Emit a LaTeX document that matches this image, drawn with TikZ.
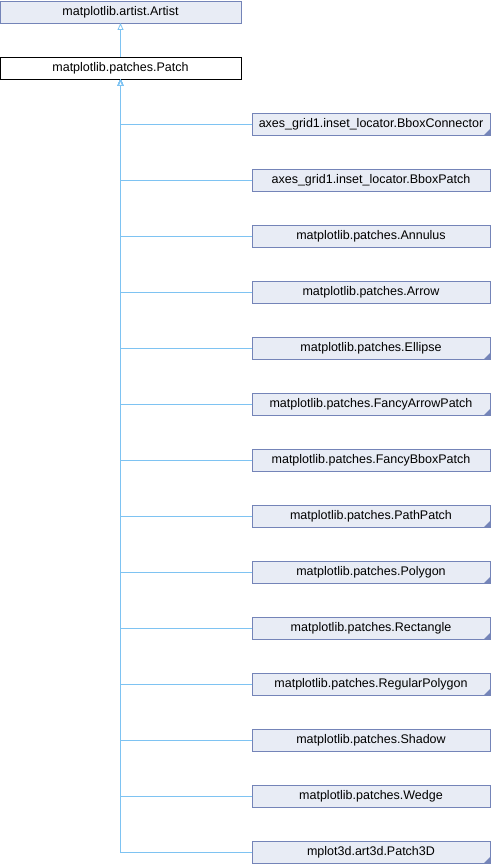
\documentclass[tikz,border=0pt]{standalone}
\usepackage{fontspec}
\setmainfont{Liberation Sans}
\usetikzlibrary{arrows.meta}

\definecolor{boxfill}{HTML}{E8ECF5}
\definecolor{boxline}{HTML}{7484B8}
\definecolor{edgeblue}{HTML}{7EC3F2}

\tikzset{
  classbox/.style = {shape=rectangle, draw=boxline, fill=boxfill,
                     minimum height=22pt, inner sep=0pt, outer sep=0pt,
                     font=\fontsize{12.5}{14}\selectfont},
  basebox/.style  = {classbox, minimum width=241pt},
  childbox/.style = {classbox, minimum width=238pt},
  inherit/.style  = {draw=edgeblue, line width=0.8pt,
                     -{Triangle[open, length=7pt, width=6pt]}}
}

\begin{document}
\begin{tikzpicture}[x=1pt, y=-1pt]
  \useasboundingbox (0,0) rectangle (492,864);

  \node[basebox] (artist) at (120.5,12) {matplotlib.artist.Artist};
  \node[basebox, fill=white, draw=black] (patch) at (120.5,68) {matplotlib.patches.Patch};
  \draw[inherit] (patch.north) -- (artist.south);

  % derived classes, flag 1 = truncated marker in the corner
  \foreach \cname/\flag [count=\i] in {
      axes\_grid1.inset\_locator.BboxConnector/1,
      axes\_grid1.inset\_locator.BboxPatch/0,
      matplotlib.patches.Annulus/0,
      matplotlib.patches.Arrow/0,
      matplotlib.patches.Ellipse/1,
      matplotlib.patches.FancyArrowPatch/1,
      matplotlib.patches.FancyBboxPatch/0,
      matplotlib.patches.PathPatch/1,
      matplotlib.patches.Polygon/1,
      matplotlib.patches.Rectangle/1,
      matplotlib.patches.RegularPolygon/1,
      matplotlib.patches.Shadow/0,
      matplotlib.patches.Wedge/0,
      mplot3d.art3d.Patch3D/1} {
    \node[childbox] (child\i) at (371,68+56*\i) {\cname};
    \draw[inherit] (child\i.west) -| (patch.south);
    \ifnum\flag=1
      \fill[boxline] ([xshift=-6pt]child\i.south east) -- (child\i.south east)
                     -- ([yshift=6pt]child\i.south east) -- cycle;
    \fi
  }
\end{tikzpicture}
\end{document}
